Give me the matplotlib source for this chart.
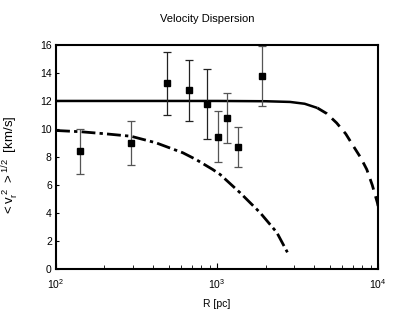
import matplotlib
matplotlib.use("Agg")
import matplotlib.pyplot as plt
from matplotlib.ticker import LogLocator, NullFormatter, FixedLocator

plt.rcParams['font.family'] = ['Liberation Sans', 'DejaVu Sans']
plt.rcParams['mathtext.fontset'] = 'custom'
plt.rcParams['mathtext.rm'] = 'Liberation Sans'
plt.rcParams['mathtext.it'] = 'Liberation Sans'

# observed dispersion with error bars
obs_r = [141, 293, 491, 671, 866, 1019, 1155, 1346, 1902]
obs_v = [8.4, 9.0, 13.3, 12.75, 11.8, 9.45, 10.8, 8.7, 13.75]
obs_lo = [1.6, 1.55, 2.3, 2.2, 2.5, 1.8, 1.8, 1.45, 2.1]
obs_hi = [1.6, 1.55, 2.2, 2.15, 2.5, 1.8, 1.8, 1.45, 2.15]
bar_colors = ['#555555', '#555555', '#222222', '#222222', '#222222',
              '#555555', '#555555', '#555555', '#555555']

# flat model: solid part then dashed fall-off
flat_r = [100, 1000, 2000, 2840, 3500, 4200]
flat_v = [12.0, 12.0, 11.98, 11.93, 11.8, 11.5]
fall_r = [4200, 4800, 5530, 6300, 7030, 7800, 8510, 9200, 9900, 10000]
fall_v = [11.5, 11.1, 10.43, 9.65, 8.77, 7.95, 7.11, 6.0, 4.74, 4.5]

# dash-dot model
dd_r = [100, 143, 200, 292, 418, 613, 740, 939, 1045, 1389, 1849, 2350, 2735]
dd_v = [9.89, 9.8, 9.66, 9.48, 9.01, 8.3, 7.82, 7.11, 6.75, 5.45, 4.03, 2.61, 1.19]

fig = plt.figure(figsize=(4.15, 3.21), dpi=100)
ax = fig.add_axes([0.135, 0.162, 0.776, 0.698])

ax.plot(flat_r, flat_v, color='black', lw=1.8, solid_capstyle='butt')
ax.plot(fall_r, fall_v, color='black', lw=2.0, linestyle=(0, (4, 2.5)))
ax.plot(dd_r, dd_v, color='black', lw=2.0, linestyle=(0, (5, 1.5, 1.2, 1.5)))

for r, v, lo, hi, c in zip(obs_r, obs_v, obs_lo, obs_hi, bar_colors):
    ax.errorbar([r], [v], yerr=[[lo], [hi]], fmt='s', color='black', ms=4.5,
                ecolor=c, elinewidth=0.9, capsize=3, capthick=0.9)

ax.set_xscale('log')
ax.set_xlim(100, 10000)
ax.set_ylim(0, 16)
ax.yaxis.set_major_locator(FixedLocator(range(0, 17, 2)))
ax.xaxis.set_major_locator(FixedLocator([100, 1000, 10000]))
ax.set_xticklabels([r'$10^2$', r'$10^3$', r'$10^4$'])
ax.xaxis.set_minor_locator(LogLocator(base=10, subs=range(2, 10)))
ax.xaxis.set_minor_formatter(NullFormatter())

ax.tick_params(axis='both', which='both', direction='in', labelsize=7.5,
               top=False, right=False)
ax.tick_params(axis='x', which='major', length=4, pad=6)
ax.tick_params(axis='x', which='minor', length=3)
ax.tick_params(axis='y', length=2, pad=3)
for s in ax.spines.values():
    s.set_linewidth(1.5)

ax.set_xlabel('R [pc]', fontsize=7.5, labelpad=6)
ax.set_ylabel(r'$<v_r^{\ 2}\ >^{1/2}$  [km/s]', fontsize=9.5, labelpad=5)
ax.yaxis.set_label_coords(-0.11, 0.46)
fig.suptitle('Velocity Dispersion', fontsize=8, y=0.955)

fig.savefig('out.png', dpi=100)
